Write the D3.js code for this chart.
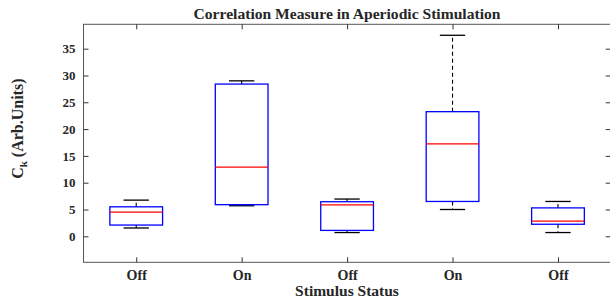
<!DOCTYPE html>
<html><head><meta charset="utf-8">
<script src="https://cdn.jsdelivr.net/npm/d3@7"></script>
<style>body{margin:0;background:#fff}svg{display:block}text{font-family:"Liberation Serif","Times New Roman",serif;font-weight:bold;fill:#262626}</style>
</head><body><svg id="c" width="610" height="301"></svg>
<script>
(function(){
const categories = ["Off","On","Off","On","Off"];
const whiskerLow  = [1.55, 5.7, 0.7, 5.0, 0.7];
const q1          = [2.1, 5.9, 1.1, 6.5, 2.25];
const median      = [4.5, 12.9, 5.85, 17.25, 2.85];
const q3          = [5.5, 28.4, 6.45, 23.25, 5.3];
const whiskerHigh = [6.75, 29.0, 6.95, 37.5, 6.5];
const yTicks = [0,5,10,15,20,25,30,35];

const svg = d3.select("#c");
const L=83.5, R=610.7, T=24.3, B=262.3;
const x = d3.scaleLinear().domain([0.5,5.5]).range([L,R]);
const y = d3.scaleLinear().domain([-4.85,39.55]).range([B,T]);
const axisColor="#555";

const g = svg.append("g");
g.append("rect").attr("x",L).attr("y",T).attr("width",R-L).attr("height",B-T)
 .attr("fill","none").attr("stroke",axisColor).attr("stroke-width",1);

const gy = g.append("g").attr("transform",`translate(${L},0)`)
 .call(d3.axisLeft(y).tickValues(yTicks).tickSizeInner(-5).tickSizeOuter(0).tickPadding(8));
gy.select(".domain").remove();
gy.selectAll("line").attr("stroke","#333");
gy.selectAll("text").style("font-size","13px").attr("fill","#262626");
const gyr = g.append("g").attr("transform",`translate(${R},0)`)
 .call(d3.axisRight(y).tickValues(yTicks).tickSizeInner(-5).tickSizeOuter(0).tickFormat(""));
gyr.select(".domain").remove(); gyr.selectAll("line").attr("stroke","#333");

const gx = g.append("g").attr("transform",`translate(0,${B})`)
 .call(d3.axisBottom(x).tickValues([1,2,3,4,5]).tickSizeInner(-5).tickSizeOuter(0).tickPadding(8).tickFormat((d,i)=>categories[i]));
gx.select(".domain").remove(); gx.selectAll("line").attr("stroke","#333");
gx.selectAll("text").style("font-size","14px").attr("fill","#262626");
const gxt = g.append("g").attr("transform",`translate(0,${T})`)
 .call(d3.axisTop(x).tickValues([1,2,3,4,5]).tickSizeInner(-5).tickSizeOuter(0).tickFormat(""));
gxt.select(".domain").remove(); gxt.selectAll("line").attr("stroke","#333");

const bw = 0.25, cw = 0.12;
categories.forEach((c,i)=>{
  const cx = x(i+1);
  const b = svg.append("g");
  b.append("line").attr("x1",cx).attr("x2",cx).attr("y1",y(q3[i])).attr("y2",y(whiskerHigh[i]))
   .attr("stroke","#000").attr("stroke-width",1.1).attr("stroke-dasharray","4,3");
  b.append("line").attr("x1",cx).attr("x2",cx).attr("y1",y(q1[i])).attr("y2",y(whiskerLow[i]))
   .attr("stroke","#000").attr("stroke-width",1.1).attr("stroke-dasharray","4,3");
  [whiskerHigh[i], whiskerLow[i]].forEach(v=>{
    b.append("line").attr("x1",x(i+1-cw)).attr("x2",x(i+1+cw)).attr("y1",y(v)).attr("y2",y(v))
     .attr("stroke","#000").attr("stroke-width",1.3);
  });
  b.append("rect").attr("x",x(i+1-bw)).attr("width",x(i+1+bw)-x(i+1-bw))
   .attr("y",y(q3[i])).attr("height",y(q1[i])-y(q3[i]))
   .attr("fill","none").attr("stroke","#0000ff").attr("stroke-width",1.3);
  b.append("line").attr("x1",x(i+1-bw)).attr("x2",x(i+1+bw)).attr("y1",y(median[i])).attr("y2",y(median[i]))
   .attr("stroke","#ff0000").attr("stroke-width",1.3);
});

svg.append("text").attr("x",347).attr("y",18.5).attr("text-anchor","middle").style("font-size","15.6px")
 .text("Correlation Measure in Aperiodic Stimulation");
svg.append("text").attr("x",347).attr("y",296).attr("text-anchor","middle").style("font-size","15.5px")
 .text("Stimulus Status");
const yl = svg.append("text").attr("transform",`translate(23,128.7) rotate(-90)`).attr("text-anchor","middle").style("font-size","16px");
yl.append("tspan").text("C");
yl.append("tspan").attr("dy",4).style("font-size","11px").text("k");
yl.append("tspan").attr("dy",-4).text(" (Arb.Units)");
})();
</script></body></html>
